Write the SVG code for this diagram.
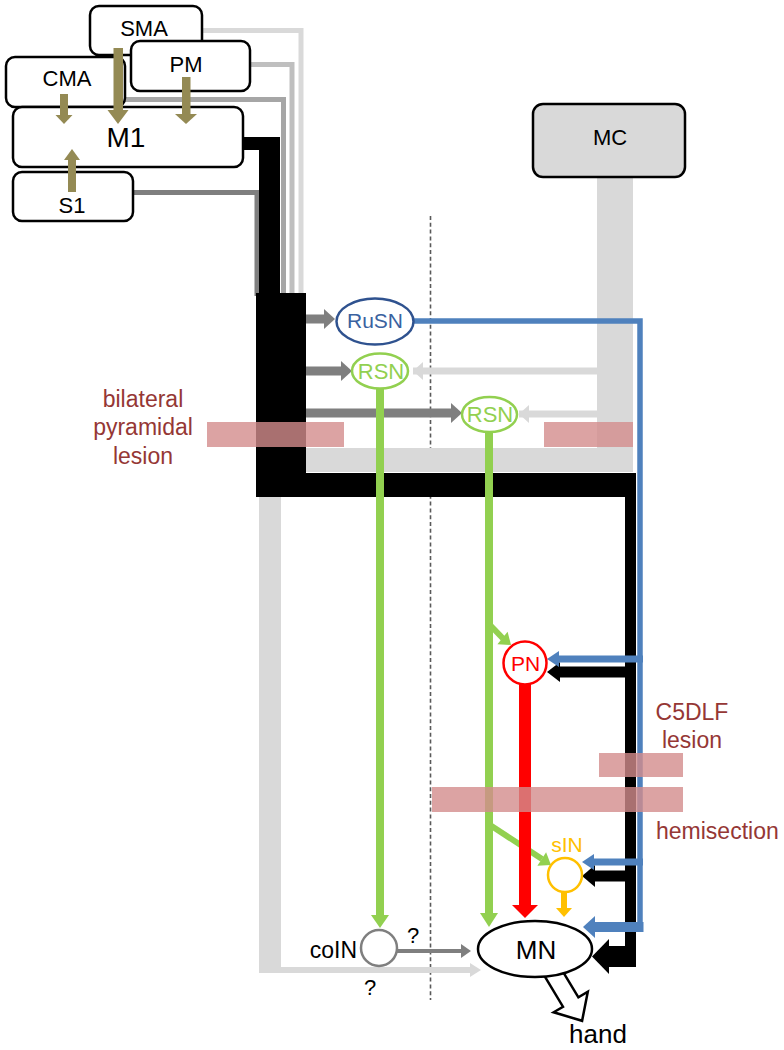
<svg xmlns="http://www.w3.org/2000/svg" width="784" height="1050" viewBox="0 0 784 1050">
<style>
text{font-family:"Liberation Sans",Arial,sans-serif;fill:#000}
.box{fill:#fff;stroke:#000;stroke-width:2.5}
.lg{fill:#d9d9d9}
.dg{fill:#7f7f7f}
.ol{fill:#948a54}
.les{fill:#d38c8c;opacity:0.8}
.lt{fill:#953735;font-size:23px}
.g{stroke:#92d050;fill:none}
.gf{fill:#92d050}
.bl{stroke:#4f81bd;fill:none}
.blf{fill:#4f81bd}
</style>
<g id="connectors">
  <line x1="430.5" y1="216" x2="430.5" y2="1000" stroke="#595959" stroke-width="1.6" stroke-dasharray="4,2.8"/>
  <!-- cortex outputs -->
  <path d="M202,30.5 H301 V296" stroke="#d9d9d9" stroke-width="5" fill="none"/>
  <path d="M250,64.5 H292 V296" stroke="#bfbfbf" stroke-width="5" fill="none"/>
  <path d="M125,99.5 H283.5 V296" stroke="#a6a6a6" stroke-width="5" fill="none"/>
  <path d="M133,192.5 H257 V296" stroke="#7f7f7f" stroke-width="5" fill="none"/>
  <!-- MC pathway -->
  <rect class="lg" x="597" y="176" width="36" height="296"/>
  <rect class="lg" x="259" y="448" width="374" height="24"/>
  <rect class="lg" x="259" y="448" width="22" height="525"/>
  <rect class="lg" x="259" y="967" width="212" height="6"/>
  <polygon class="lg" points="470,963 481,970 470,977"/>
  <rect class="lg" x="413" y="367.5" width="184" height="7"/>
  <rect class="lg" x="519" y="410.5" width="78" height="7"/>
  <polygon class="lg" points="423,362 413,371 423,380"/>
  <polygon class="lg" points="529,405 519,414 529,423"/>
  <!-- M1 corticospinal (black) -->
  <rect x="240" y="137" width="40" height="13" fill="#000"/>
  <rect x="259" y="137" width="21" height="360" fill="#000"/>
  <rect x="256" y="293" width="50" height="204" fill="#000"/>
  <rect x="256" y="473" width="380" height="24" fill="#000"/>
  <rect x="625" y="473" width="11" height="494" fill="#000"/>
  <rect x="608" y="946" width="28" height="21" fill="#000"/>
  <polygon points="609,939 592,956.5 609,974" fill="#000"/>
  <rect x="558" y="666.5" width="72" height="11" fill="#000"/>
  <polygon points="560,662 547,672 560,682" fill="#000"/>
  <rect x="593" y="870.5" width="37" height="11" fill="#000"/>
  <polygon points="595,865 582,876 595,887" fill="#000"/>
  <!-- dark gray arrows to brainstem -->
  <rect class="dg" x="306" y="314.5" width="19" height="9"/>
  <polygon class="dg" points="324,309 335,319 324,329"/>
  <rect class="dg" x="306" y="366.5" width="36" height="9"/>
  <polygon class="dg" points="341,361 352,371 341,381"/>
  <rect class="dg" x="306" y="408.5" width="146" height="9"/>
  <polygon class="dg" points="451,403 462,413 451,423"/>
  <!-- coIN to MN -->
  <rect class="dg" x="396" y="949" width="66" height="4"/>
  <polygon class="dg" points="461,944 471,951 461,958"/>
  <!-- rubrospinal (blue) -->
  <path class="bl" d="M413,321 H640 V927" stroke-width="5.5"/>
  <path class="bl" d="M643.5,927 H593" stroke-width="10"/>
  <polygon class="blf" points="595,916 583,927 595,938"/>
  <rect class="blf" x="558" y="655.5" width="85" height="7"/>
  <polygon class="blf" points="559,651 547,659 559,667"/>
  <rect class="blf" x="593" y="858.5" width="50" height="7"/>
  <polygon class="blf" points="594,854 582,862 594,870"/>
  <!-- reticulospinal (green) -->
  <line class="g" x1="380" y1="388" x2="380" y2="916" stroke-width="8"/>
  <polygon class="gf" points="371,915 389,915 380,928"/>
  <line class="g" x1="489" y1="432" x2="489" y2="914" stroke-width="8"/>
  <polygon class="gf" points="480,913 498,913 489,927"/>
  <line class="g" x1="490" y1="625" x2="503" y2="638.5" stroke-width="6"/>
  <polygon class="gf" points="497.4,644.2 507.6,631.8 511,645"/>
  <line class="g" x1="490" y1="825" x2="542" y2="859" stroke-width="6"/>
  <polygon class="gf" points="537.4,865.7 546.1,852.3 551,865"/>
  <!-- propriospinal (red) and segmental IN (orange) -->
  <rect x="519" y="684" width="12" height="222" fill="#ff0000"/>
  <polygon points="512,905 538,905 525,918" fill="#ff0000"/>
  <rect x="561" y="891" width="6" height="18" fill="#ffc000"/>
  <polygon points="556,908 572,908 564,917" fill="#ffc000"/>
  <!-- output to hand -->
  <polygon points="556.7,961.3 578.4,997.3 587.8,991.7 582.1,1020.8 553.6,1012.3 563,1006.7 541.3,970.7" fill="#fff" stroke="#000" stroke-width="2.5" stroke-linejoin="miter"/>
</g>
<g id="lesions">
  <rect class="les" x="207" y="422" width="137" height="25"/>
  <rect class="les" x="544" y="422" width="89" height="25"/>
  <rect class="les" x="599" y="753" width="84" height="24"/>
  <rect class="les" x="432" y="787" width="251" height="25"/>
  <text class="lt" x="143" y="407" text-anchor="middle">bilateral</text>
  <text class="lt" x="143" y="435" text-anchor="middle">pyramidal</text>
  <text class="lt" x="143" y="464" text-anchor="middle">lesion</text>
  <text class="lt" x="692" y="720" text-anchor="middle">C5DLF</text>
  <text class="lt" x="692" y="748" text-anchor="middle">lesion</text>
  <text class="lt" x="656" y="839">hemisection</text>
</g>
<g id="SMA"><rect class="box" x="90" y="6" width="112" height="49" rx="9"/><text x="144" y="36" font-size="22" text-anchor="middle">SMA</text></g>
<g id="CMA"><rect class="box" x="6" y="57" width="119" height="50" rx="9"/><text x="67" y="86" font-size="22" text-anchor="middle">CMA</text></g>
<g id="PM"><rect class="box" x="131" y="41" width="119" height="50" rx="9"/><text x="186" y="72" font-size="22" text-anchor="middle">PM</text></g>
<g id="M1"><rect class="box" x="13" y="107" width="230" height="60" rx="9"/><text x="126" y="147" font-size="28" text-anchor="middle">M1</text></g>
<g id="S1"><rect class="box" x="13" y="172" width="120" height="49" rx="9"/><text x="72" y="213" font-size="22" text-anchor="middle">S1</text></g>
<g id="cortical-arrows">
  <rect class="ol" x="113.5" y="48" width="9.5" height="63"/>
  <polygon class="ol" points="107.5,110 128.5,110 118,124"/>
  <rect class="ol" x="60" y="94" width="8" height="22"/>
  <polygon class="ol" points="55.5,115 72.5,115 64,124"/>
  <rect class="ol" x="182" y="77" width="8.5" height="38"/>
  <polygon class="ol" points="175,114 197,114 186,124"/>
  <rect class="ol" x="68" y="159" width="8" height="33"/>
  <polygon class="ol" points="64,160 80,160 72,149"/>
</g>
<g id="MC"><rect x="533" y="104" width="152" height="73" rx="10" fill="#d9d9d9" stroke="#000" stroke-width="2.5"/><text x="610" y="145" font-size="22" text-anchor="middle">MC</text></g>
<g id="RuSN"><ellipse cx="375" cy="321.5" rx="38.5" ry="23" fill="#fff" stroke="#2f528f" stroke-width="2.5"/><text x="375" y="328" font-size="21" text-anchor="middle" style="fill:#3a62a0">RuSN</text></g>
<g id="RSN-left"><ellipse cx="380" cy="371" rx="28" ry="17.5" fill="#fff" stroke="#92d050" stroke-width="2.5"/><text x="381" y="378.5" font-size="22" text-anchor="middle" style="fill:#92d050">RSN</text></g>
<g id="RSN-right"><ellipse cx="489.5" cy="414.5" rx="27.5" ry="17.5" fill="#fff" stroke="#92d050" stroke-width="2.5"/><text x="490" y="421.5" font-size="22" text-anchor="middle" style="fill:#92d050">RSN</text></g>
<g id="PN"><circle cx="525" cy="663" r="21.5" fill="#fff" stroke="#ff0000" stroke-width="2.5"/><text x="525.5" y="671" font-size="21" text-anchor="middle" style="fill:#ff0000">PN</text></g>
<g id="sIN"><circle cx="565" cy="875" r="17" fill="#fff" stroke="#ffc000" stroke-width="2.5"/><text x="567" y="852" font-size="21" text-anchor="middle" style="fill:#ffc000">sIN</text></g>
<g id="coIN"><circle cx="379" cy="948" r="18" fill="#fff" stroke="#7f7f7f" stroke-width="2.5"/><text x="357" y="958" font-size="23" text-anchor="end">coIN</text></g>
<g id="MN"><ellipse cx="535" cy="949" rx="57" ry="28" fill="#fff" stroke="#000" stroke-width="2.5"/><text x="536" y="959" font-size="26" text-anchor="middle">MN</text></g>
<g id="labels">
  <text x="413" y="943" font-size="22" text-anchor="middle">?</text>
  <text x="370" y="995" font-size="22" text-anchor="middle">?</text>
  <text x="598" y="1043" font-size="26" text-anchor="middle">hand</text>
</g>
</svg>
